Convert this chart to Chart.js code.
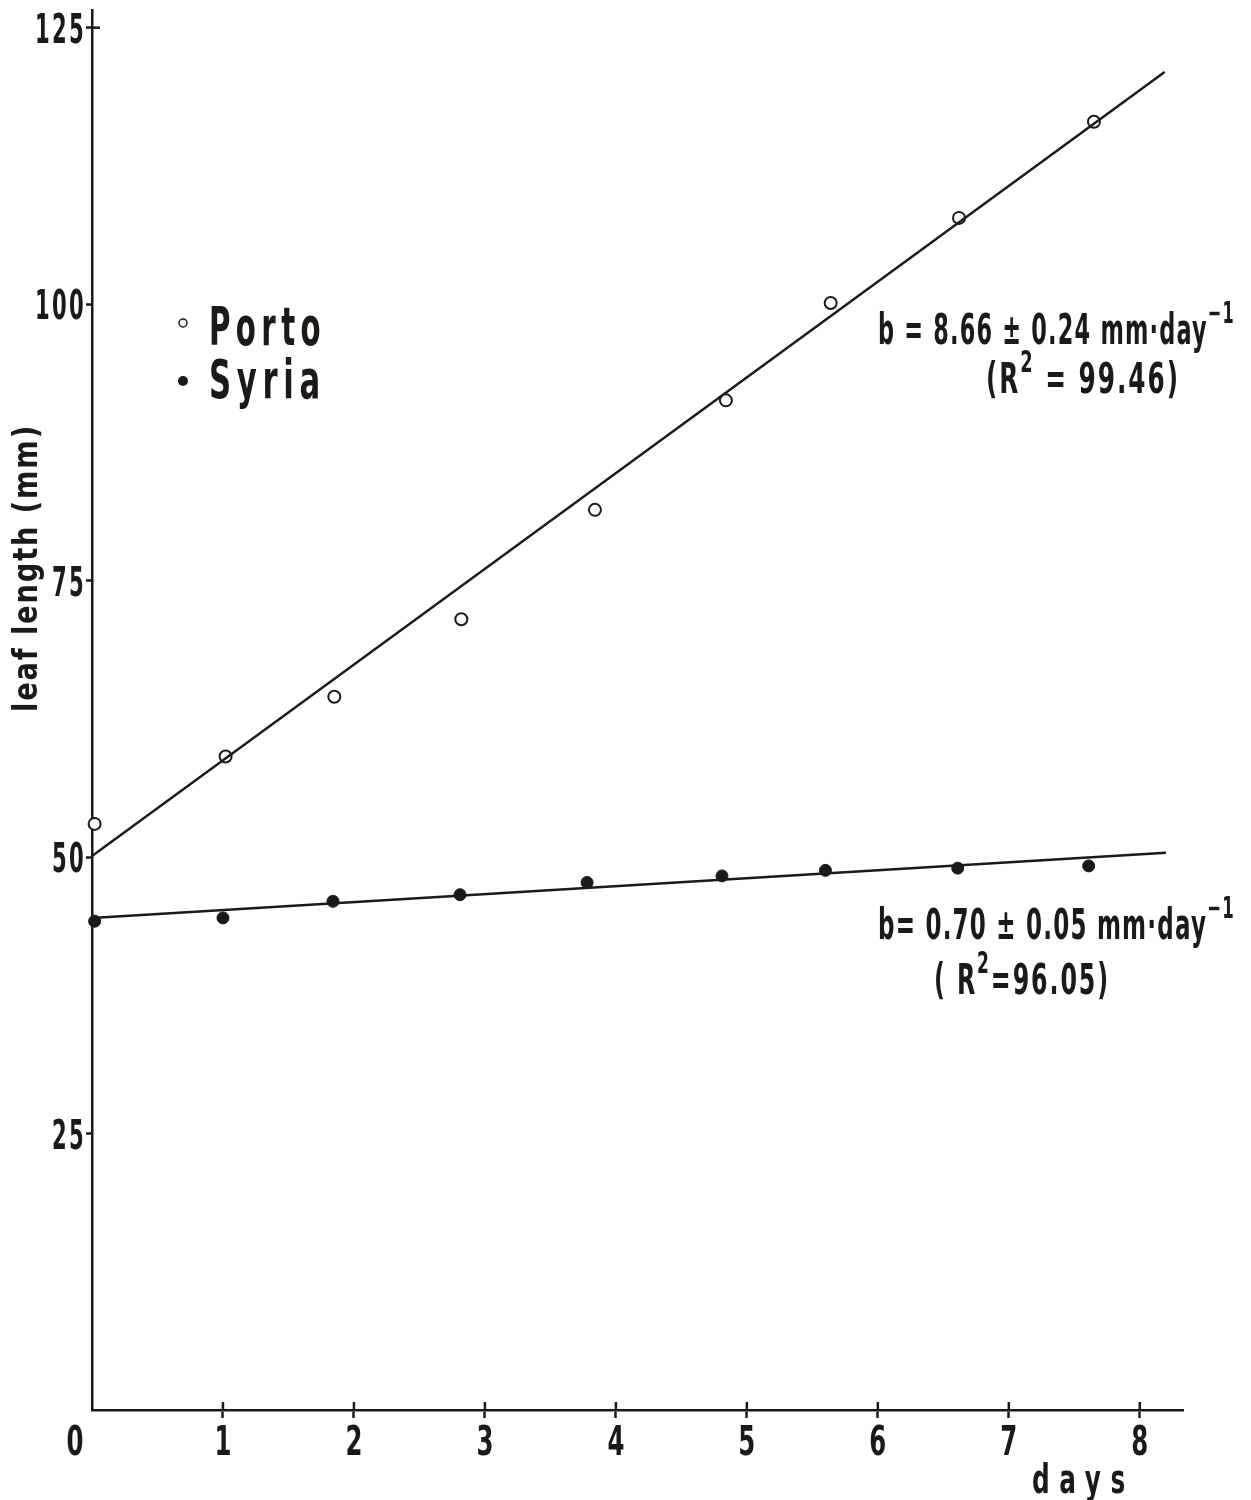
<!DOCTYPE html>
<html>
<head>
<meta charset="utf-8">
<script src="https://cdn.jsdelivr.net/npm/chart.js@4.4.1/dist/chart.umd.min.js"></script>
<style>
  html, body { margin: 0; padding: 0; background: #ffffff; }
  canvas { display: block; }
</style>
</head>
<body>
<canvas id="chart" width="1251" height="1500"></canvas>
<script>
// measured points (days, leaf length in mm)
const portoDays = [0.02, 1.02, 1.85, 2.82, 3.84, 4.84, 5.64, 6.62, 7.65];
const portoLength = [53.0, 59.1, 64.5, 71.5, 81.4, 91.3, 100.1, 107.8, 116.5];
const syriaDays = [0.02, 1.0, 1.84, 2.81, 3.78, 4.81, 5.6, 6.61, 7.61];
const syriaLength = [44.2, 44.5, 46.0, 46.6, 47.7, 48.3, 48.8, 49.0, 49.2];

// fitted regression lines, end points as drawn
const portoFitDays = [0, 8.19];
const portoFitLength = [50.1, 121.0];
const syriaFitDays = [0, 8.2];
const syriaFitLength = [44.5, 50.4];

const xTicks = [0, 1, 2, 3, 4, 5, 6, 7, 8];
const yTicks = [0, 25, 50, 75, 100, 125];

const INK = "#1c1917";
const FONT = '"DejaVu Sans Condensed", "DejaVu Sans", sans-serif';

const toPoints = (xs, ys) => xs.map((x, i) => ({ x, y: ys[i] }));

/**
 * Draw text parts (with optional superscripts), squeezed horizontally
 * so the whole run is `width` px wide. The original uses a narrow type.
 */
const drawRich = (ctx, parts, x, y, size, width, align = "left", spacing = 0) => {
  ctx.letterSpacing = `${spacing}px`;
  const sized = parts.map((part) => {
    const s = part.sup ? size * 0.72 : size;
    ctx.font = `bold ${s}px ${FONT}`;
    return { ...part, s, w: ctx.measureText(part.t).width };
  });
  const natural = sized.reduce((a, p) => a + p.w, 0);
  const sx = width / natural;
  let start = x;
  if (align === "right") start = x - width;
  if (align === "center") start = x - width / 2;
  ctx.save();
  ctx.translate(start, y);
  ctx.scale(sx, 1);
  ctx.textAlign = "left";
  let cx = 0;
  sized.forEach((p) => {
    ctx.font = `bold ${p.s}px ${FONT}`;
    ctx.fillText(p.t, cx, p.sup ? -size * 0.5 : 0);
    cx += p.w;
  });
  ctx.restore();
  ctx.letterSpacing = "0px";
};

const labelsPlugin = {
  id: "labels",
  afterDraw: (chart) => {
    const ctx = chart.ctx;
    const xs = chart.scales.x;
    const ys = chart.scales.y;
    ctx.save();
    ctx.fillStyle = INK;
    ctx.strokeStyle = INK;
    ctx.textBaseline = "alphabetic";

    // x tick marks cross the axis
    ctx.lineWidth = 2.5;
    xTicks.forEach((v) => {
      if (v === 0) return;
      const px = xs.getPixelForValue(v);
      ctx.beginPath();
      ctx.moveTo(px, ys.bottom);
      ctx.lineTo(px, ys.bottom - 8);
      ctx.stroke();
    });
    // top y tick crosses too
    const topY = ys.getPixelForValue(yTicks[yTicks.length - 1]);
    ctx.beginPath();
    ctx.moveTo(xs.left, topY);
    ctx.lineTo(xs.left + 8, topY);
    ctx.stroke();

    // tick labels in the narrow type of the original
    const digitW = 17;
    xTicks.forEach((v) => {
      const label = String(v);
      const px = xs.getPixelForValue(v) + (v === 0 ? -17 : 0);
      drawRich(ctx, [{ t: label }], px, ys.bottom + 45, 41, digitW * label.length, "center");
    });
    yTicks.forEach((v) => {
      if (v === 0) return;
      const label = String(v);
      const py = ys.getPixelForValue(v);
      drawRich(ctx, [{ t: label }], xs.left - 6, py + 15, 41, digitW * label.length, "right", 4);
    });

    // legend
    ctx.lineWidth = 1.5;
    ctx.beginPath();
    ctx.arc(183, 323, 4, 0, Math.PI * 2);
    ctx.stroke();
    ctx.beginPath();
    ctx.arc(183, 381, 5, 0, Math.PI * 2);
    ctx.fill();
    drawRich(ctx, [{ t: "Porto" }], 209, 345, 54, 117, "left", 9);
    drawRich(ctx, [{ t: "Syria" }], 209, 398, 54, 117, "left", 9);

    // regression annotations
    drawRich(ctx, [{ t: "b = 8.66 ± 0.24 mm·day" }, { t: "−1", sup: true }], 878, 344, 42, 357, "left", 2);
    drawRich(ctx, [{ t: "(R" }, { t: "2", sup: true }, { t: " = 99.46)" }], 986, 393, 42, 194, "left", 3);
    drawRich(ctx, [{ t: "b= 0.70 ± 0.05 mm·day" }, { t: "−1", sup: true }], 878, 939, 42, 357, "left", 2);
    drawRich(ctx, [{ t: "( R" }, { t: "2", sup: true }, { t: "=96.05)" }], 934, 994, 42, 176, "left", 3);

    // axis titles
    drawRich(ctx, [{ t: "days" }], 1032, 1493, 40, 103, "left", 14);
    ctx.translate(37, 712);
    ctx.rotate(-Math.PI / 2);
    drawRich(ctx, [{ t: "leaf length (mm)" }], 0, 0, 33, 288, "left", 2);
    ctx.restore();
  },
};

// no tick marks at the origin corner
const tickColor = (context) => (context.tick && context.tick.value === 0 ? "rgba(0,0,0,0)" : INK);

new Chart(document.getElementById("chart"), {
  type: "scatter",
  data: {
    datasets: [
      {
        label: "Porto fit",
        type: "line",
        data: toPoints(portoFitDays, portoFitLength),
        borderColor: INK,
        borderWidth: 2.5,
        pointRadius: 0,
        fill: false,
      },
      {
        label: "Syria fit",
        type: "line",
        data: toPoints(syriaFitDays, syriaFitLength),
        borderColor: INK,
        borderWidth: 2.5,
        pointRadius: 0,
        fill: false,
      },
      {
        label: "Porto",
        data: toPoints(portoDays, portoLength),
        pointRadius: 6,
        pointBorderWidth: 2,
        pointBackgroundColor: "#ffffff",
        pointBorderColor: INK,
        clip: false,
      },
      {
        label: "Syria",
        data: toPoints(syriaDays, syriaLength),
        pointRadius: 6,
        pointBorderWidth: 1,
        pointBackgroundColor: INK,
        pointBorderColor: INK,
        clip: false,
      },
    ],
  },
  options: {
    responsive: false,
    animation: false,
    layout: { padding: { top: 10, right: 68, left: 0, bottom: 0 } },
    plugins: {
      legend: { display: false },
      tooltip: { enabled: false },
    },
    scales: {
      x: {
        type: "linear",
        min: 0,
        max: 8.33,
        afterBuildTicks: (scale) => {
          scale.ticks = xTicks.map((value) => ({ value }));
        },
        afterFit: (scale) => {
          scale.height = 90;
          scale.paddingLeft = 0;
          scale.paddingRight = 0;
        },
        grid: { drawOnChartArea: false, tickLength: 8, tickWidth: 2.5, color: INK, tickColor },
        border: { color: INK, width: 2.5 },
        ticks: { display: false },
      },
      y: {
        type: "linear",
        min: 0,
        max: 126.6,
        afterBuildTicks: (scale) => {
          scale.ticks = yTicks.map((value) => ({ value }));
        },
        afterFit: (scale) => {
          scale.width = 92;
          scale.paddingTop = 0;
          scale.paddingBottom = 0;
        },
        grid: { drawOnChartArea: false, tickLength: 6, tickWidth: 2.5, color: INK, tickColor },
        border: { color: INK, width: 2.5 },
        ticks: { display: false },
      },
    },
  },
  plugins: [labelsPlugin],
});
</script>
</body>
</html>
